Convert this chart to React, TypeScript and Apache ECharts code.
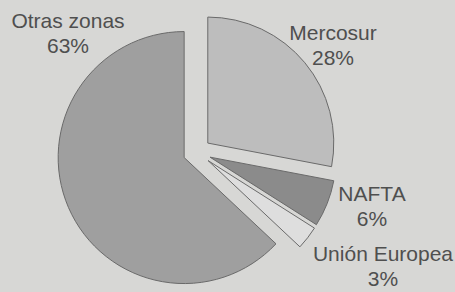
import React, { useEffect, useRef } from "react";
import * as echarts from "echarts";

const categories = ["Mercosur", "NAFTA", "Unión Europea", "Otras zonas"];
const values = [28, 6, 3, 63];
const colors = ["#bdbdbd", "#8b8b8b", "#dedede", "#9f9f9f"];
const labelPos = [
  [333, 45],
  [372, 206],
  [383, 266],
  [68, 33],
];

export default function App() {
  const ref = useRef<HTMLDivElement>(null);
  useEffect(() => {
    document.body.style.margin = "0";
    const chart = echarts.init(ref.current!, undefined, { renderer: "svg" });
    const total = values.reduce((a, b) => a + b, 0);
    chart.setOption({
      animation: false,
      backgroundColor: "#d7d7d5",
      graphic: categories.map((name, i) => ({
        type: "text",
        x: labelPos[i][0],
        y: labelPos[i][1],
        style: {
          text: `${name}\n${Math.round((values[i] / total) * 100)}%`,
          fontFamily: "Liberation Sans, Arial, sans-serif",
          fontSize: 21,
          lineHeight: 25,
          fill: "#4f4f4f",
          align: "center",
          verticalAlign: "middle",
        },
      })),
      series: [
        {
          type: "pie",
          center: [197, 152],
          radius: 126,
          startAngle: 90,
          clockwise: true,
          selectedMode: "multiple",
          selectedOffset: 14,
          emphasis: { disabled: true },
          itemStyle: { borderColor: "#6a6a6a", borderWidth: 1 },
          label: { show: false },
          labelLine: { show: false },
          data: categories.map((name, i) => ({
            name,
            value: values[i],
            selected: true,
            itemStyle: { color: colors[i] },
          })),
        },
      ],
    });
    return () => chart.dispose();
  }, []);
  return <div ref={ref} style={{ width: 455, height: 292 }} />;
}
